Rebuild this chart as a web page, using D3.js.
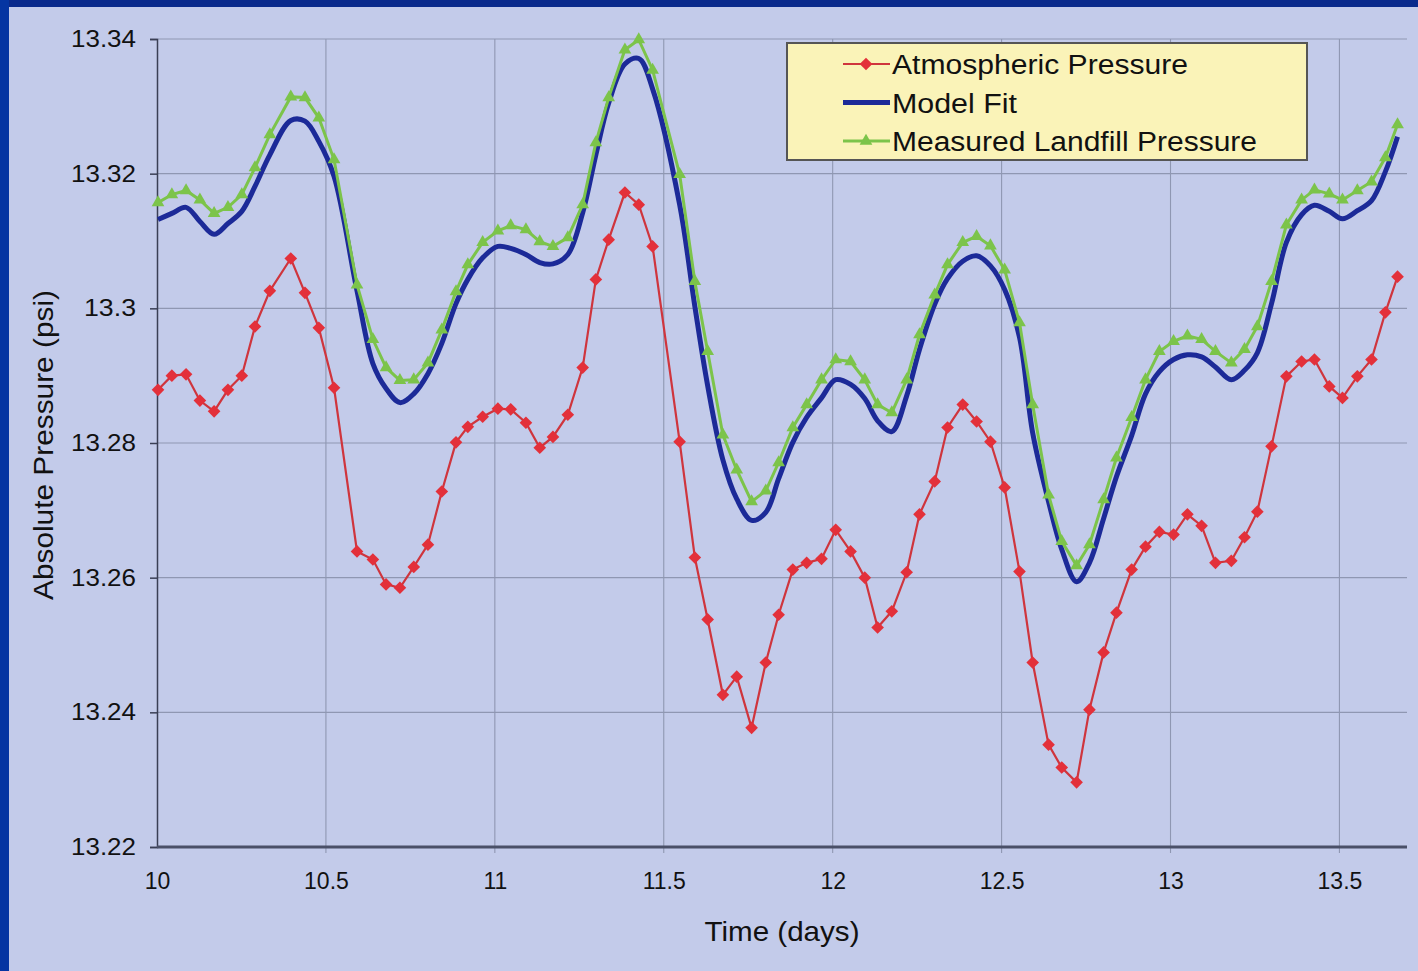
<!DOCTYPE html>
<html>
<head>
<meta charset="utf-8">
<script src="https://cdn.jsdelivr.net/npm/d3@7"></script>
<style>
body { margin: 0; padding: 0; background: #c3cbea; }
</style>
</head>
<body>
<div id="view"></div>
<script>
// time of each reading (days)
var days = [10.003, 10.044, 10.086, 10.127, 10.169, 10.210, 10.251, 10.290, 10.334, 10.396,
	10.438, 10.479, 10.524, 10.592, 10.639, 10.678, 10.719, 10.760, 10.802, 10.843,
	10.885, 10.920, 10.964, 11.009, 11.047, 11.092, 11.133, 11.172, 11.216, 11.260,
	11.299, 11.337, 11.385, 11.426, 11.467, 11.547, 11.592, 11.630, 11.675, 11.716,
	11.760, 11.802, 11.840, 11.882, 11.923, 11.967, 12.009, 12.053, 12.095, 12.133,
	12.175, 12.219, 12.257, 12.302, 12.340, 12.385, 12.426, 12.467, 12.509, 12.553,
	12.592, 12.639, 12.678, 12.722, 12.760, 12.802, 12.840, 12.885, 12.926, 12.967,
	13.009, 13.050, 13.092, 13.133, 13.180, 13.219, 13.257, 13.299, 13.343, 13.388,
	13.426, 13.470, 13.509, 13.553, 13.595, 13.636, 13.672];

var atmospheric = [13.2879, 13.2900, 13.2902, 13.2863, 13.2847, 13.2879, 13.2900, 13.2973, 13.3026, 13.3074,
	13.3023, 13.2971, 13.2882, 13.2639, 13.2627, 13.2590, 13.2585, 13.2616, 13.2649, 13.2728,
	13.2801, 13.2824, 13.2839, 13.2851, 13.2850, 13.2830, 13.2793, 13.2809, 13.2842, 13.2912,
	13.3043, 13.3102, 13.3172, 13.3154, 13.3092, 13.2802, 13.2630, 13.2538, 13.2426, 13.2453,
	13.2377, 13.2474, 13.2545, 13.2612, 13.2622, 13.2628, 13.2671, 13.2639, 13.2600, 13.2526,
	13.2550, 13.2608, 13.2694, 13.2743, 13.2823, 13.2857, 13.2832, 13.2802, 13.2734, 13.2609,
	13.2474, 13.2352, 13.2318, 13.2296, 13.2404, 13.2489, 13.2548, 13.2612, 13.2646, 13.2668,
	13.2664, 13.2694, 13.2677, 13.2622, 13.2625, 13.2660, 13.2698, 13.2795, 13.2899, 13.2921,
	13.2924, 13.2884, 13.2867, 13.2899, 13.2924, 13.2994, 13.3047];

var modelFit = [13.3132, 13.3141, 13.3150, 13.3129, 13.3110, 13.3126, 13.3144, 13.3181, 13.3228, 13.3279,
	13.3278, 13.3248, 13.3196, 13.3026, 13.2918, 13.2881, 13.2860, 13.2873, 13.2903, 13.2948,
	13.3007, 13.3043, 13.3075, 13.3092, 13.3089, 13.3080, 13.3068, 13.3066, 13.3080, 13.3142,
	13.3228, 13.3305, 13.3363, 13.3371, 13.3326, 13.3154, 13.3003, 13.2885, 13.2775, 13.2717,
	13.2685, 13.2697, 13.2747, 13.2801, 13.2838, 13.2867, 13.2894, 13.2887, 13.2866, 13.2833,
	13.2817, 13.2870, 13.2939, 13.3006, 13.3044, 13.3070, 13.3078, 13.3063, 13.3028, 13.2957,
	13.2815, 13.2713, 13.2642, 13.2594, 13.2622, 13.2688, 13.2750, 13.2811, 13.2873, 13.2906,
	13.2924, 13.2931, 13.2928, 13.2913, 13.2894, 13.2908, 13.2934, 13.3007, 13.3098, 13.3139,
	13.3153, 13.3144, 13.3133, 13.3145, 13.3160, 13.3203, 13.3255];

var landfill = [13.3157, 13.3169, 13.3175, 13.3161, 13.3141, 13.3150, 13.3169, 13.3209, 13.3258, 13.3314,
	13.3313, 13.3283, 13.3221, 13.3035, 13.2954, 13.2912, 13.2893, 13.2894, 13.2919, 13.2968,
	13.3025, 13.3065, 13.3098, 13.3115, 13.3123, 13.3117, 13.3099, 13.3092, 13.3105, 13.3154,
	13.3246, 13.3313, 13.3384, 13.3399, 13.3354, 13.3199, 13.3040, 13.2936, 13.2812, 13.2760,
	13.2713, 13.2729, 13.2771, 13.2823, 13.2857, 13.2894, 13.2924, 13.2921, 13.2894, 13.2857,
	13.2845, 13.2894, 13.2961, 13.3020, 13.3065, 13.3098, 13.3107, 13.3093, 13.3057, 13.2979,
	13.2857, 13.2723, 13.2654, 13.2618, 13.2649, 13.2716, 13.2778, 13.2838, 13.2894, 13.2936,
	13.2951, 13.2959, 13.2954, 13.2936, 13.2919, 13.2939, 13.2973, 13.3040, 13.3124, 13.3161,
	13.3176, 13.3170, 13.3161, 13.3175, 13.3188, 13.3224, 13.3273];

var xTicks = [10, 10.5, 11, 11.5, 12, 12.5, 13, 13.5];
var yTicks = [13.22, 13.24, 13.26, 13.28, 13.3, 13.32, 13.34];
var seriesNames = ["Atmospheric Pressure", "Model Fit", "Measured Landfill Pressure"];

var W = 1418, H = 971;
// plot box (note: "top" is taken by window.top)
var pLeft = 157, pRight = 1407, pTop = 39, pBottom = 847;

var svg = d3.select("#view")
	.append("svg")
	.attr("width", W)
	.attr("height", H)
	.style("display", "block")
	.style("font-family", "'Liberation Sans', Arial, sans-serif");

// slide background and dark blue frame
svg.append("rect").attr("width", W).attr("height", H).style("fill", "#c3cbea");
svg.append("rect").attr("width", W).attr("height", 7).style("fill", "#0a2a8c");
svg.append("rect").attr("width", 9).attr("height", H).style("fill", "#0535a2");

var x = d3.scaleLinear().domain([10, 13.7]).range([pLeft, pRight]);
var y = d3.scaleLinear().domain([13.22, 13.34]).range([pBottom, pTop]);

// grid
svg.append("g").selectAll("line")
	.data(yTicks.slice(1))
	.enter().append("line")
	.attr("x1", pLeft).attr("x2", pRight)
	.attr("y1", function(d){ return y(d); })
	.attr("y2", function(d){ return y(d); })
	.style("stroke", "#8f97b2")
	.style("stroke-width", 1.1);

svg.append("g").selectAll("line")
	.data(xTicks.slice(1))
	.enter().append("line")
	.attr("x1", function(d){ return x(d); })
	.attr("x2", function(d){ return x(d); })
	.attr("y1", pTop).attr("y2", pBottom + 6)
	.style("stroke", "#8f97b2")
	.style("stroke-width", 1.1);

// axes
var yAxis = svg.append("g")
	.attr("transform", "translate(" + pLeft + ",0)")
	.call(d3.axisLeft(y).tickValues(yTicks).tickSize(7).tickPadding(14).tickFormat(d3.format("")));
yAxis.select(".domain").style("stroke", "#3a3f55").style("stroke-width", 1.5);
yAxis.selectAll(".tick line").style("stroke", "#3a3f55").style("stroke-width", 1.5);
yAxis.selectAll(".tick text").style("font-size", "23px").style("fill", "#111")
	.attr("textLength", function(d){ return String(d).length * 13; })
	.attr("lengthAdjust", "spacingAndGlyphs");

var xAxis = svg.append("g")
	.attr("transform", "translate(0," + pBottom + ")")
	.call(d3.axisBottom(x).tickValues(xTicks).tickSize(0).tickPadding(26).tickFormat(d3.format("")));
xAxis.select(".domain").attr("d", "M" + pLeft + ",0H" + pRight).style("stroke", "#4a5068").style("stroke-width", 3);
xAxis.selectAll(".tick text").style("font-size", "23px").style("fill", "#111");

// axis titles
svg.append("text")
	.attr("x", 782).attr("y", 941)
	.attr("text-anchor", "middle")
	.style("font-size", "28px")
	.style("fill", "#111")
	.attr("textLength", 155)
	.attr("lengthAdjust", "spacingAndGlyphs")
	.text("Time (days)");

svg.append("text")
	.attr("transform", "translate(53,445) rotate(-90)")
	.attr("text-anchor", "middle")
	.style("font-size", "27px")
	.style("fill", "#111")
	.attr("textLength", 310)
	.attr("lengthAdjust", "spacingAndGlyphs")
	.text("Absolute Pressure (psi)");

// series
var pts = function(vals){ return days.map(function(d, i){ return [d, vals[i]]; }); };
var line = d3.line().x(function(d){ return x(d[0]); }).y(function(d){ return y(d[1]); });
var smooth = d3.line().curve(d3.curveCatmullRom).x(function(d){ return x(d[0]); }).y(function(d){ return y(d[1]); });
// red marker: square turned on its corner
var redMark = d3.symbol().type(d3.symbolSquare).size(80);

svg.append("path")
	.attr("d", line(pts(atmospheric)))
	.style("fill", "none")
	.style("stroke", "#cf353d")
	.style("stroke-width", 2.2);

svg.append("g").selectAll("path")
	.data(pts(atmospheric))
	.enter().append("path")
	.attr("d", redMark)
	.attr("transform", function(d){ return "translate(" + x(d[0]) + "," + y(d[1]) + ") rotate(45)"; })
	.style("fill", "#e3303a");

svg.append("path")
	.attr("d", smooth(pts(modelFit)))
	.style("fill", "none")
	.style("stroke", "#1c2a98")
	.style("stroke-width", 5);

svg.append("path")
	.attr("d", line(pts(landfill)))
	.style("fill", "none")
	.style("stroke", "#7cc44a")
	.style("stroke-width", 3);

svg.append("g").selectAll("path")
	.data(pts(landfill))
	.enter().append("path")
	.attr("d", d3.symbol().type(d3.symbolTriangle).size(70))
	.attr("transform", function(d){ return "translate(" + x(d[0]) + "," + y(d[1]) + ")"; })
	.style("fill", "#7cc44a");

// legend
var legend = svg.append("g").attr("transform", "translate(787,43)");
legend.append("rect")
	.attr("width", 520).attr("height", 117)
	.style("fill", "#faf3b8")
	.style("stroke", "#555")
	.style("stroke-width", 2);

var legColors = ["#cf353d", "#1c2a98", "#7cc44a"];
var legWidths = [2.2, 5, 3];
var legLengths = [296, 125, 365];
legend.selectAll(".item")
	.data(seriesNames)
	.enter().append("g")
	.attr("class", "item")
	.attr("transform", function(d, i){ return "translate(0," + (21 + i * 38.5) + ")"; })
	.each(function(d, i){
		var g = d3.select(this);
		g.append("line")
			.attr("x1", 56).attr("x2", 103)
			.style("stroke", legColors[i])
			.style("stroke-width", legWidths[i]);
		if (i == 0) {
			g.append("path").attr("d", redMark)
				.attr("transform", "translate(79,0) rotate(45)").style("fill", "#e3303a");
		}
		if (i == 2) {
			g.append("path").attr("d", d3.symbol().type(d3.symbolTriangle).size(70))
				.attr("transform", "translate(79,0)").style("fill", "#7cc44a");
		}
		g.append("text")
			.attr("x", 105).attr("y", 10)
			.style("font-size", "27px")
			.style("fill", "#111")
			.attr("textLength", legLengths[i])
			.attr("lengthAdjust", "spacingAndGlyphs")
			.text(d);
	});
</script>
</body>
</html>
